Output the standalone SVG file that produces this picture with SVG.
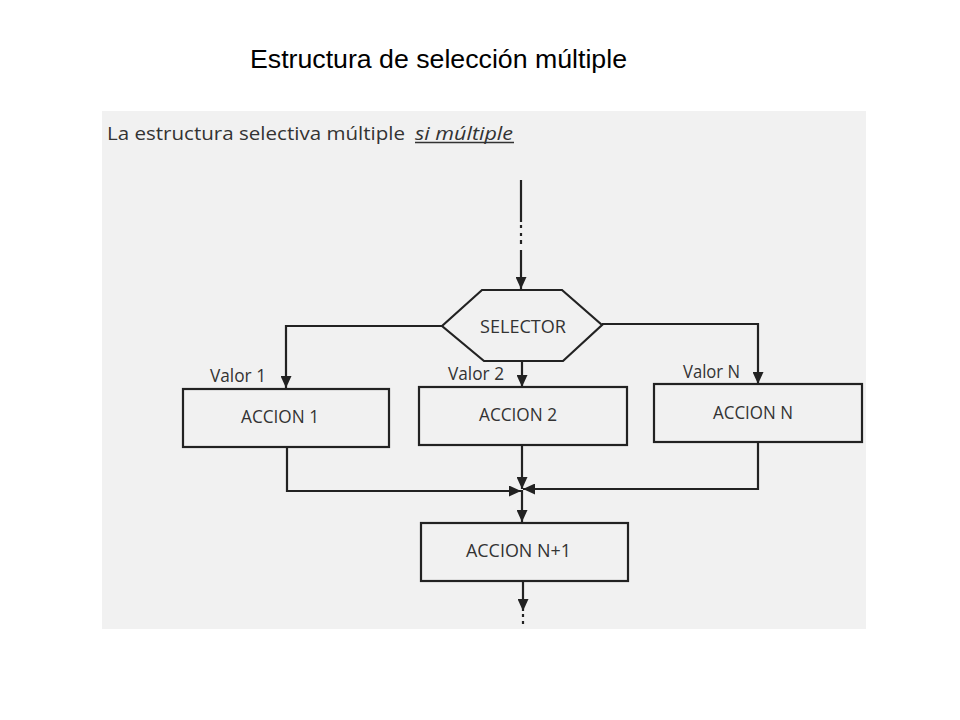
<svg xmlns="http://www.w3.org/2000/svg" width="960" height="720" viewBox="0 0 960 720">
<defs>
<style>
.ln{fill:none;stroke:#222;stroke-width:2.2}
.nd{fill:none;stroke:#222;stroke-width:2.2}
.lb{font-family:"Open Sans","DejaVu Sans",sans-serif;font-size:18.5px;fill:#333}
.hd{font-family:"Liberation Sans",Arial,sans-serif;font-size:25px;fill:#000}
</style>
<marker id="ah" viewBox="0 0 12 11" refX="12" refY="5.5" markerWidth="12" markerHeight="11" markerUnits="userSpaceOnUse" orient="auto">
<path d="M0,0 L12,5.5 L0,11 z" fill="#222"/>
</marker>
</defs>
<rect width="960" height="720" fill="#fff"/>
<text class="hd" x="250" y="68" textLength="377" lengthAdjust="spacingAndGlyphs">Estructura de selección múltiple</text>
<rect x="102" y="111" width="764" height="518" fill="#f1f1f1"/>
<text class="lb" x="107" y="140" font-size="22" textLength="298" lengthAdjust="spacingAndGlyphs">La estructura selectiva múltiple</text>
<text class="lb" x="415" y="140" font-size="22" font-style="italic" textLength="98" lengthAdjust="spacingAndGlyphs">si múltiple</text>
<line x1="415" y1="142.5" x2="514" y2="142.5" stroke="#333" stroke-width="1.5"/>
<g id="connectors">
<path class="ln" d="M521,180 V222 M521,225 V228 M521,233 V236 M521,240 V244"/>
<path class="ln" d="M521,250 V289" marker-end="url(#ah)"/>
<path class="ln" d="M442,326 H286 V388" marker-end="url(#ah)"/>
<path class="ln" d="M522,361 V387" marker-end="url(#ah)"/>
<path class="ln" d="M602,324 H758 V384" marker-end="url(#ah)"/>
<path class="ln" d="M287,447 V491 H521" marker-end="url(#ah)"/>
<path class="ln" d="M522,445 V489" marker-end="url(#ah)"/>
<path class="ln" d="M758,442 V489 H523" marker-end="url(#ah)"/>
<path class="ln" d="M522,490 V522" marker-end="url(#ah)"/>
<path class="ln" d="M523,581 V611" marker-end="url(#ah)"/>
<path class="ln" d="M523,614 V617 M523,621 V624"/>
</g>
<g id="selector">
<polygon class="nd" points="442,326 482,290 562,290 602,325 563,361 484,361"/>
<text class="lb" x="480" y="333" textLength="86" lengthAdjust="spacingAndGlyphs">SELECTOR</text>
</g>
<g id="accion1">
<rect class="nd" x="183" y="389" width="206" height="58"/>
<text class="lb" x="241" y="423" textLength="78" lengthAdjust="spacingAndGlyphs">ACCION 1</text>
</g>
<g id="accion2">
<rect class="nd" x="419" y="387" width="208" height="58"/>
<text class="lb" x="479" y="421" textLength="78" lengthAdjust="spacingAndGlyphs">ACCION 2</text>
</g>
<g id="accionN">
<rect class="nd" x="654" y="384" width="208" height="58"/>
<text class="lb" x="713" y="419" textLength="80" lengthAdjust="spacingAndGlyphs">ACCION N</text>
</g>
<g id="accionN1">
<rect class="nd" x="421" y="523" width="207" height="58"/>
<text class="lb" x="466" y="557" textLength="105" lengthAdjust="spacingAndGlyphs">ACCION N+1</text>
</g>
<g id="labels">
<text class="lb" x="210" y="382" textLength="56" lengthAdjust="spacingAndGlyphs">Valor 1</text>
<text class="lb" x="448" y="380" textLength="56" lengthAdjust="spacingAndGlyphs">Valor 2</text>
<text class="lb" x="683" y="378" textLength="57" lengthAdjust="spacingAndGlyphs">Valor N</text>
</g>
</svg>
